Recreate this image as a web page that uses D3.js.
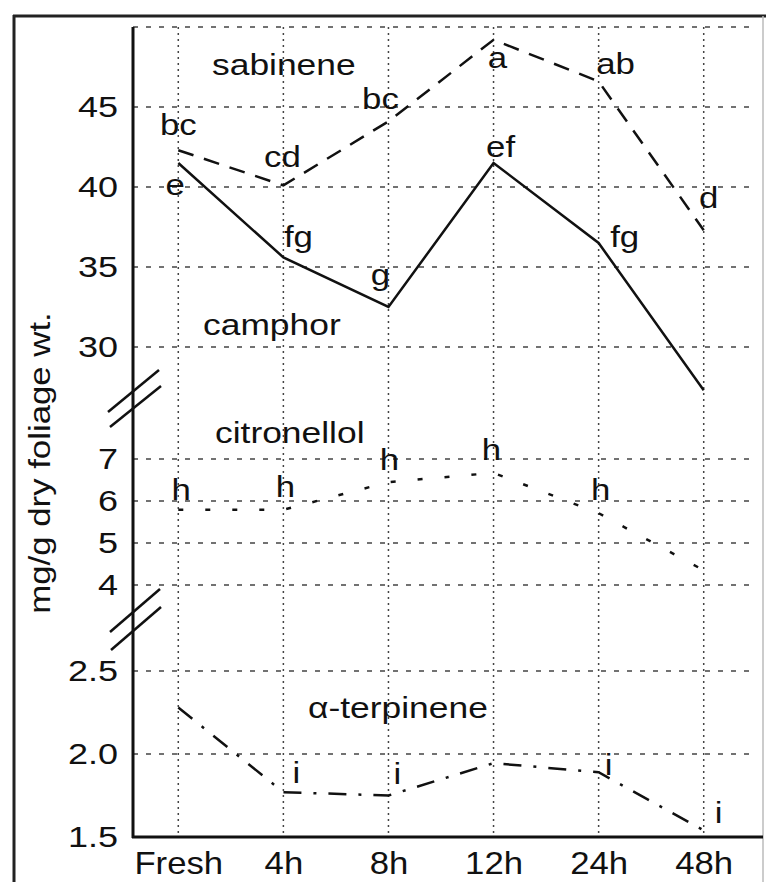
<!DOCTYPE html>
<html>
<head>
<meta charset="utf-8">
<script src="https://cdn.jsdelivr.net/npm/d3@7"></script>
<style>
  body { margin: 0; background: #fff; }
  text { font-family: "Liberation Sans", Arial, sans-serif; fill: #111; }
</style>
</head>
<body>
<svg id="chart"></svg>
<script>
// sampling times
const times = ["Fresh", "4h", "8h", "12h", "24h", "48h"];

// mg/g dry foliage wt.
const sabinene    = [42.3, 40.1, 44.1, 49.2, 46.6, 37.3];
const camphor     = [41.5, 35.6, 32.5, 41.5, 36.5, 27.3];
const citronellol = [5.79, 5.79, 6.45, 6.67, 5.71, 4.35];
const terpinene   = [2.28, 1.77, 1.75, 1.945, 1.89, 1.54];

// significance letters
const sabineneLetters    = ["bc", "cd", "bc", "a", "ab", "d"];
const camphorLetters     = ["e", "fg", "g", "ef", "fg", ""];
const citronellolLetters = ["h", "h", "h", "h", "h", ""];
const terpineneLetters   = ["", "i", "i", "", "i", "i"];

// tick values of the three broken segments
const upperTicks = [30, 35, 40, 45];
const upperGrid  = [30, 35, 40, 45, 50];
const midTicks   = [4, 5, 6, 7];
const lowerTicks = [1.5, 2.0, 2.5];
const lowerTickLabels = ["1.5", "2.0", "2.5"];

const width = 766, height = 882;
const plotL = 133, plotR = 753, plotT = 27, plotB = 837;
const SX = 1.2; // the original lettering is wider than Arial

const svg = d3.select("#chart").attr("width", width).attr("height", height);

const x = d3.scalePoint().domain(times).range([131, 751]).padding(0.45);
const yTop = d3.scaleLinear().domain([30, 50]).range([347, 27]);
const yMid = d3.scaleLinear().domain([4, 7]).range([585, 459]);
const yLow = d3.scaleLinear().domain([1.5, 2.5]).range([837, 671]);

// outer frame
svg.append("line").attr("x1", 14).attr("x2", 14).attr("y1", 15).attr("y2", height)
  .style("stroke", "#222").style("stroke-width", 3);
svg.append("line").attr("x1", 13).attr("x2", width).attr("y1", 16).attr("y2", 16)
  .style("stroke", "#222").style("stroke-width", 3);
svg.append("line").attr("x1", 763).attr("x2", 763).attr("y1", 16).attr("y2", height)
  .style("stroke", "#bbb").style("stroke-width", 1.5);

// grid
const grid = svg.append("g");
const hLines = [];
upperGrid.forEach(v => hLines.push(yTop(v)));
midTicks.forEach(v => hLines.push(yMid(v)));
lowerTicks.filter(v => v > 1.5).forEach(v => hLines.push(yLow(v)));
grid.selectAll(".hgrid").data(hLines).join("line")
  .attr("x1", plotL).attr("x2", plotR)
  .attr("y1", d => d).attr("y2", d => d)
  .style("stroke", "#444").style("stroke-width", 1.5)
  .style("stroke-dasharray", "5,8");
grid.selectAll(".vgrid").data(times).join("line")
  .attr("x1", d => x(d)).attr("x2", d => x(d))
  .attr("y1", plotT).attr("y2", plotB)
  .style("stroke", "#444").style("stroke-width", 1.5)
  .style("stroke-dasharray", "2,4");

// axes
function yAxis(scale, ticks, fmt) {
  const g = svg.append("g").attr("transform", `translate(${plotL},0)`)
    .call(d3.axisLeft(scale).tickValues(ticks).tickSize(0).tickFormat(fmt));
  g.select(".domain").remove();
  g.selectAll("text")
    .attr("x", -15 / SX)
    .attr("transform", `scale(${SX},1)`)
    .attr("font-size", 30)
    .attr("font-family", "Liberation Sans, Arial, sans-serif")
    .style("fill", "#111");
}
yAxis(yTop, upperTicks, d3.format("d"));
yAxis(yMid, midTicks, d3.format("d"));
yAxis(yLow, lowerTicks, (d, i) => lowerTickLabels[i]);

const xg = svg.append("g").attr("transform", `translate(0,${plotB})`)
  .call(d3.axisBottom(x).tickSize(0).tickPadding(15));
xg.select(".domain").remove();
xg.selectAll("text")
  .attr("font-size", 31)
  .attr("font-family", "Liberation Sans, Arial, sans-serif")
  .style("fill", "#111")
  .attr("transform", "scale(1.12,1)");

svg.append("line").attr("x1", plotL).attr("x2", plotL).attr("y1", plotT).attr("y2", plotB + 1)
  .style("stroke", "#111").style("stroke-width", 3);
svg.append("line").attr("x1", plotL - 1).attr("x2", 763).attr("y1", plotB).attr("y2", plotB)
  .style("stroke", "#111").style("stroke-width", 3);

// axis breaks
const breaks = [
  {x1: 108, y1: 412, x2: 159, y2: 370},
  {x1: 110, y1: 427, x2: 161, y2: 386},
  {x1: 110, y1: 632, x2: 160, y2: 589},
  {x1: 111, y1: 650, x2: 161, y2: 607}
];
svg.selectAll(".brk").data(breaks).join("line")
  .attr("x1", d => d.x1).attr("y1", d => d.y1)
  .attr("x2", d => d.x2).attr("y2", d => d.y2)
  .style("stroke", "#111").style("stroke-width", 2.5);

// series
const series = [
  {values: sabinene, y: yTop, dash: "16,11", letters: sabineneLetters,
   off: [[0, -15], [-1, -18], [-8, -12], [4, 28], [17, -7], [5, -22]]},
  {values: camphor, y: yTop, dash: null, letters: camphorLetters,
   off: [[-3, 32], [15, -10], [-8, -22], [7, -6], [26, 4], [0, 0]]},
  {values: citronellol, y: yMid, dash: "5,22", letters: citronellolLetters,
   off: [[3, -10], [2, -13], [1, -12], [-2, -13], [2, -13], [0, 0]]},
  {values: terpinene, y: yLow, dash: "18,12,3,12", letters: terpineneLetters,
   off: [[0, 0], [13, -9], [9, -12], [0, 0], [10, 3], [15, -7]]}
];

series.forEach(s => {
  const line = d3.line().x((d, i) => x(times[i])).y(d => s.y(d));
  svg.append("path")
    .attr("d", line(s.values))
    .style("fill", "none")
    .style("stroke", "#111")
    .style("stroke-width", 2.5)
    .style("stroke-dasharray", s.dash);

  svg.append("g").selectAll("text")
    .data(s.values.map((v, i) => ({v, i})).filter(d => s.letters[d.i] !== ""))
    .join("text")
    .attr("transform", d => `translate(${x(times[d.i]) + s.off[d.i][0]},${s.y(d.v) + s.off[d.i][1]}) scale(${SX},1)`)
    .attr("text-anchor", "middle")
    .style("font-size", "29px")
    .text(d => s.letters[d.i]);
});

// compound names
const names = [
  {t: "sabinene", x: 212, y: 75},
  {t: "camphor", x: 203, y: 335},
  {t: "citronellol", x: 215, y: 443},
  {t: "α-terpinene", x: 308, y: 718}
];
svg.selectAll(".name").data(names).join("text")
  .attr("transform", d => `translate(${d.x},${d.y}) scale(${SX},1)`)
  .style("font-size", "29.5px")
  .text(d => d.t);

// y title
svg.append("text")
  .attr("transform", `translate(50,463) rotate(-90) scale(${SX},1)`)
  .attr("text-anchor", "middle")
  .style("font-size", "29px")
  .text("mg/g dry foliage wt.");
</script>
</body>
</html>
